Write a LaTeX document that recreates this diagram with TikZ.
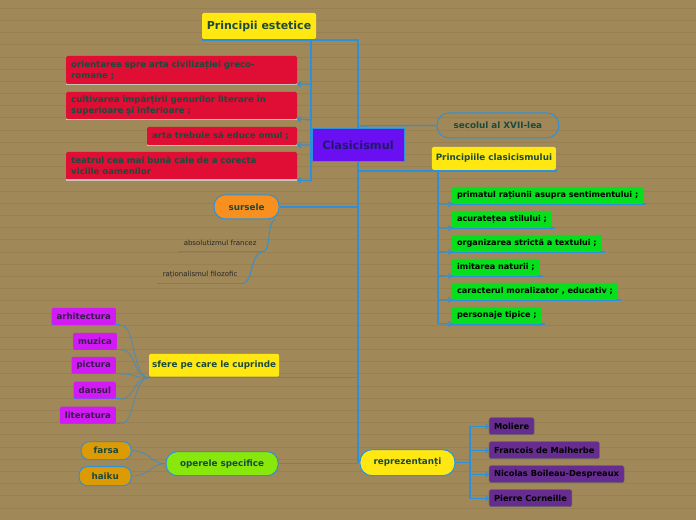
\documentclass[tikz,border=0pt]{standalone}
\usepackage{fontspec}
\setmainfont{DejaVu Sans}
\usetikzlibrary{arrows.meta}
\pgfdeclarelayer{paper}
\pgfdeclarelayer{background}
\pgfsetlayers{paper,background,main}
\definecolor{bg}{HTML}{A08858}
\definecolor{bgline}{HTML}{988052}
\definecolor{lineblue}{HTML}{2E90D8}
\definecolor{yel}{HTML}{FFE812}
\definecolor{redb}{HTML}{E00D34}
\definecolor{purp}{HTML}{6A0FF2}
\definecolor{grn}{HTML}{05DF1C}
\definecolor{orng}{HTML}{F7901E}
\definecolor{mag}{HTML}{D21AF4}
\definecolor{lime}{HTML}{88E80C}
\definecolor{gold}{HTML}{DC9A04}
\definecolor{dpurp}{HTML}{662C90}
\definecolor{tgreen}{HTML}{1C4A3C}
\definecolor{tnavy}{HTML}{1E1A6A}
\definecolor{tpurp}{HTML}{3A1A50}
\definecolor{ulgray}{HTML}{C8C2B8}
\tikzset{
  conn/.style={draw=lineblue, line width=1.3pt},
  thin conn/.style={draw=lineblue!70!gray, line width=0.7pt},
  arr/.style={conn, -{Straight Barb[length=2.5pt,width=5pt]}},
  base/.style={rectangle, inner sep=0pt, font=\bfseries\fontsize{8.8}{10}\selectfont},
  redbox/.style={base, fill=redb, rounded corners=1.5pt, text=tgreen, align=left, inner xsep=5pt, anchor=center, font=\bfseries\fontsize{8.6}{11}\selectfont},
  grnbox/.style={base, fill=grn, rounded corners=1.5pt, text=black, inner xsep=5pt, minimum height=17pt, anchor=west, font=\bfseries\fontsize{8.1}{9}\selectfont},
  magbox/.style={base, fill=mag, rounded corners=1.5pt, text=tpurp, inner xsep=5pt, minimum height=17pt, anchor=east, font=\bfseries\fontsize{8.6}{9}\selectfont},
  dpbox/.style={base, fill=dpurp, draw=black!60, line width=0.5pt, rounded corners=2pt, text=black, inner xsep=5pt, minimum height=17pt, anchor=west, font=\bfseries\fontsize{8.3}{9}\selectfont},
  pill/.style={base, rounded corners=9pt, draw=lineblue, line width=1pt, text=tgreen},
  small/.style={font=\fontsize{7}{8}\selectfont, text=black!85, inner sep=0pt},
}
\begin{document}
\begin{tikzpicture}[x=1pt,y=-1pt]
\begin{pgfonlayer}{paper}
\fill[bg] (0,0) rectangle (696,520);
\foreach \yy in {8,20.2,...,520} \draw[bgline, line width=0.5pt] (0,\yy) -- (696,\yy);
\end{pgfonlayer}
\useasboundingbox (0,0) rectangle (696,520);

% main nodes
\node[base, fill=yel, rounded corners=1.5pt, text=tgreen, minimum width=114pt, minimum height=26pt, font=\bfseries\fontsize{11}{12}\selectfont] (pe) at (259,26) {Principii estetice};
\node[base, fill=purp, draw=lineblue, line width=0.8pt, text=tnavy, minimum width=92pt, minimum height=34pt, font=\bfseries\fontsize{11.3}{12}\selectfont] (cl) at (358,145) {Clasicismul};

% red boxes
\node[redbox, minimum width=231pt, minimum height=28pt, text width=221pt] (r1) at (181.5,70) {orientarea spre arta civilizației greco-\\romane ;};
\node[redbox, minimum width=231pt, minimum height=27pt, text width=221pt] (r2) at (181.5,105.5) {cultivarea împărțirii genurilor literare în\\superioare și inferioare ;};
\node[redbox, minimum width=150pt, minimum height=18pt, text width=140pt] (r3) at (222,136) {arta trebuie să educe omul ;};
\node[redbox, minimum width=231pt, minimum height=28pt, text width=221pt] (r4) at (181.5,166) {teatrul cea mai bună cale de a corecta\\viciile oamenilor};
\foreach \n in {r1,r2,r3,r4} \draw[ulgray, line width=1.2pt] (\n.south west) -- (\n.south east);

% secolul & principiile
\node[pill, rounded corners=12pt, minimum width=122pt, minimum height=25pt] (sec) at (498,125.5) {secolul al XVII-lea};
\node[base, fill=yel, rounded corners=1.5pt, text=tgreen, minimum width=124pt, minimum height=23pt] (pc) at (494,158.5) {Principiile clasicismului};
\node[grnbox] (g1) at (452,195.5) {primatul rațiunii asupra sentimentului ;};
\node[grnbox] (g2) at (452,219.5) {acuratețea stilului ;};
\node[grnbox] (g3) at (452,243.5) {organizarea strictă a textului ;};
\node[grnbox] (g4) at (452,267.5) {imitarea naturii ;};
\node[grnbox] (g5) at (452,291.5) {caracterul moralizator , educativ ;};
\node[grnbox] (g6) at (452,315.5) {personaje tipice ;};

% sursele
\node[pill, fill=orng, rounded corners=11pt, minimum width=65pt, minimum height=24pt] (src) at (246.5,207) {sursele};
\node[small] (s1) at (220,243) {absolutizmul francez};
\node[small] (s2) at (200,275) {raționalismul filozofic};

% sfere
\node[base, fill=yel, rounded corners=1.5pt, text=tgreen, minimum width=130pt, minimum height=23pt] (sf) at (214,365.5) {sfere pe care le cuprinde};
\node[magbox] (m1) at (116,316.5) {arhitectura};
\node[magbox] (m2) at (117,341.5) {muzica};
\node[magbox] (m3) at (116,365.5) {pictura};
\node[magbox] (m4) at (116,390.5) {dansul};
\node[magbox] (m5) at (116,415.5) {literatura};

% operele
\node[pill, fill=lime, rounded corners=11pt, minimum width=112pt, minimum height=24pt] (op) at (222,464) {operele specifice};
\node[pill, fill=gold, rounded corners=8pt, minimum width=50pt, minimum height=18pt] (fa) at (106,451) {farsa};
\node[pill, fill=gold, rounded corners=8pt, minimum width=52pt, minimum height=19pt] (hk) at (105,476.5) {haiku};

% reprezentanti
\node[pill, fill=yel, rounded corners=12pt, minimum width=95pt, minimum height=26pt] (rep) at (407.5,463) {reprezentanți};
\node[dpbox] (p1) at (489,426.5) {Moliere};
\node[dpbox] (p2) at (489,450.5) {Francois de Malherbe};
\node[dpbox] (p3) at (489,474.5) {Nicolas Boileau-Despreaux};
\node[dpbox] (p4) at (489,498.5) {Pierre Corneille};

% ---------- connectors (behind nodes) ----------
\begin{pgfonlayer}{background}
\coordinate (peL) at (202,40);
\coordinate (tTop) at (358,40);
\coordinate (tBot) at (358,463);
\coordinate (rb) at (311,40);
\coordinate (rbB) at (311,181);
\draw[conn] (peL) -- (tTop) -- (tBot);
\draw[conn] (rb) -- (rbB);
\foreach \n/\yy in {r1/84,r2/120,r3/145,r4/181} \draw[arr] (311,\yy) -- (\n.south east);

\draw[conn] (358,126) -- (sec.west);
\coordinate (pcR) at (557,171);
\draw[conn] (358,171) -- (pcR);
\coordinate (gTop) at (438,171);
\coordinate (gBot) at (438,324);
\draw[conn] (gTop) -- (gBot);
\foreach \n/\yy in {g1/204,g2/228,g3/252,g4/276,g5/300,g6/324} {
  \draw[arr] (438,\yy) -- (\n.south west);
  \draw[conn] (\n.south west) -- ([xshift=3pt]\n.south east);
}

\draw[conn] (src.east) -- (358,207);
\coordinate (s1L) at (178,252);
\coordinate (s1R) at (262,252);
\coordinate (s2L) at (157,284);
\coordinate (s2R) at (242,284);
\coordinate (srcB) at (275,219);
\draw[conn] (s1L) -- (s1R);
\draw[conn] (s2L) -- (s2R);
\draw[conn, line width=0.9pt] (srcB) .. controls (266,224) and (272,252) .. (s1R);
\draw[conn, line width=0.9pt] (s1R) .. controls (250,254) and (253,284) .. (s2R);

\coordinate (sfL) at (149,378);
\draw[conn] (sfL) -- (358,378);
\foreach \n in {m1,m2,m3,m4,m5} {
  \draw[conn, line width=1pt] (\n.south west) -- ([xshift=4pt]\n.south east);
  \draw[thin conn] ([xshift=4pt]\n.south east) .. controls ([xshift=20pt]\n.south east) and (132,378) .. (sfL);
}

\draw[conn] (op.east) -- (358,464);
\draw[thin conn] (fa.east) .. controls (150,451) and (150,464) .. (op.west);
\draw[thin conn] (hk.east) .. controls (150,476.5) and (150,464) .. (op.west);

\draw[conn] (tBot) -- (rep.west);
\coordinate (pTop) at (470,426.5);
\coordinate (pBot) at (470,498.5);
\draw[conn] (rep.east) -- (470,463);
\draw[conn] (pTop) -- (pBot);
\foreach \n/\yy in {p1/426.5,p2/450.5,p3/474.5,p4/498.5} \draw[arr] (470,\yy) -- (\n.west);
\end{pgfonlayer}
\end{tikzpicture}
\end{document}
